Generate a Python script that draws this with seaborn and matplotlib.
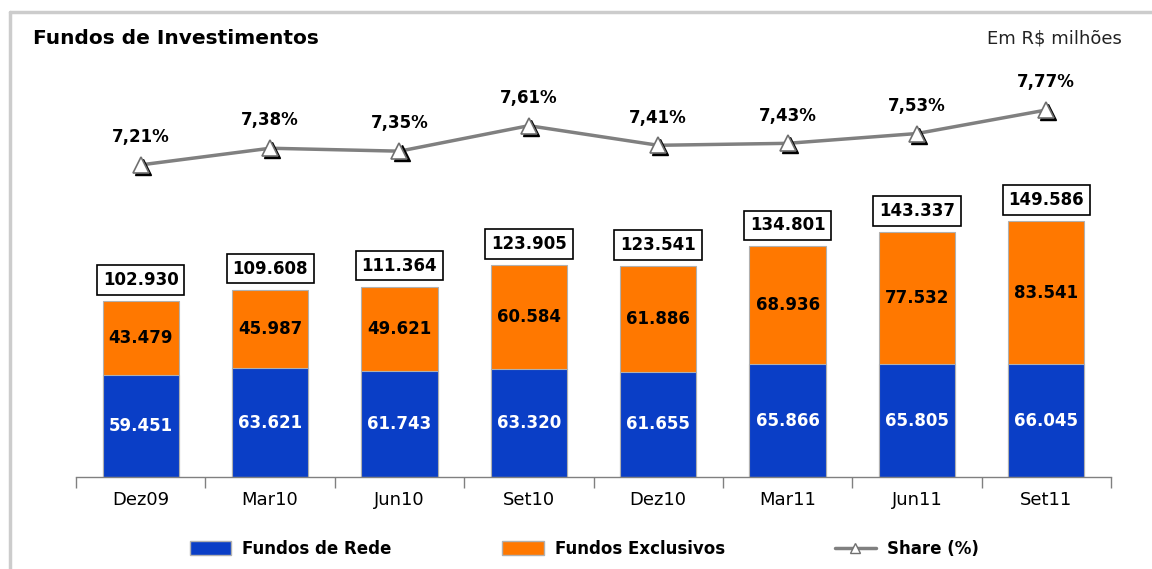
import numpy as np
import matplotlib
matplotlib.use("Agg")
import matplotlib.pyplot as plt
import matplotlib.transforms as mtransforms
from matplotlib.patches import Patch
from matplotlib.lines import Line2D
import seaborn as sns

# Data (R$ milhões)
periods = ["Dez09", "Mar10", "Jun10", "Set10", "Dez10", "Mar11", "Jun11", "Set11"]
fundos_rede = [59451, 63621, 61743, 63320, 61655, 65866, 65805, 66045]
fundos_exclusivos = [43479, 45987, 49621, 60584, 61886, 68936, 77532, 83541]
totals = [102930, 109608, 111364, 123905, 123541, 134801, 143337, 149586]
share = [7.21, 7.38, 7.35, 7.61, 7.41, 7.43, 7.53, 7.77]

BLUE = "#0a3ec6"
ORANGE = "#ff7800"
GRAY = "#808080"


def fmt_thousands(v):
    return f"{v:,}".replace(",", ".")


sns.set_theme(style="white")
plt.rcParams['font.family'] = ['DejaVu Sans']
plt.rcParams['text.color'] = 'black'

fig = plt.figure(figsize=(11.52, 5.69), dpi=100)
ax = fig.add_axes([0.066, 0.1617, 0.8984, 0.733])

# orange bars span the full stack, blue drawn over the lower part
stacked = [r + e for r, e in zip(fundos_rede, fundos_exclusivos)]
sns.barplot(x=periods, y=stacked, color=ORANGE, saturation=1, width=0.59,
            edgecolor="#b0b0b0", linewidth=0.8, ax=ax)
sns.barplot(x=periods, y=fundos_rede, color=BLUE, saturation=1, width=0.59,
            edgecolor="#b0b0b0", linewidth=0.8, ax=ax)

ax.set_xlim(-0.5, 7.5)
ax.set_ylim(0, 243874)
ax.set_yticks([])
ax.set_ylabel("")
for side in ["top", "left", "right"]:
    ax.spines[side].set_visible(False)
ax.spines["bottom"].set_color(GRAY)
ax.spines["bottom"].set_linewidth(1)
ax.set_xticks(range(len(periods)))
ax.set_xticklabels(periods, fontsize=13, color="black")
ax.set_xticks(np.arange(-0.5, len(periods), 1), minor=True)
ax.tick_params(axis="x", which="major", length=0, pad=10)
ax.tick_params(axis="x", which="minor", length=8, width=1, color=GRAY, bottom=True, direction="out")

# segment labels
for i in range(len(periods)):
    r, e = fundos_rede[i], fundos_exclusivos[i]
    ax.text(i, r / 2, fmt_thousands(r), ha="center", va="center", color="white",
            fontsize=12, fontweight="bold")
    ax.text(i, r + e / 2, fmt_thousands(e), ha="center", va="center", color="black",
            fontsize=12, fontweight="bold")
    ax.text(i, stacked[i] + 12300, fmt_thousands(totals[i]), ha="center", va="center",
            color="black", fontsize=12, fontweight="bold",
            bbox=dict(boxstyle="square,pad=0.35", facecolor="white", edgecolor="black", linewidth=1.2))

# share line on secondary axis
ax2 = ax.twinx()
xs = np.arange(len(periods))
sns.lineplot(x=xs, y=share, color=GRAY, linewidth=2.5, ax=ax2, zorder=2)
shadow = mtransforms.offset_copy(ax2.transData, fig=fig, x=1.5, y=-1.5, units="points")
ax2.plot(xs, share, linestyle="none", marker="^", markersize=11, color="black",
         transform=shadow, zorder=3)
ax2.plot(xs, share, linestyle="none", marker="^", markersize=11, markerfacecolor="white",
         markeredgecolor="#707070", markeredgewidth=1.2, zorder=4)
ax2.set_ylim(4.026, 8.281)
ax2.set_yticks([])
ax2.set_ylabel("")
for side in ["top", "left", "right", "bottom"]:
    ax2.spines[side].set_visible(False)
for i, s in enumerate(share):
    ax2.annotate(f"{s:.2f}%".replace(".", ","), (i, s), xytext=(0, 20), textcoords="offset points",
                 ha="center", va="center", fontsize=12, fontweight="bold", color="black")

# frame lines (top and left)
fig.add_artist(Line2D([10 / 1152, 1], [1 - 12 / 569, 1 - 12 / 569], color="#cccccc", linewidth=2.5,
                      transform=fig.transFigure))
fig.add_artist(Line2D([10 / 1152, 10 / 1152], [0, 1 - 12 / 569], color="#cccccc", linewidth=2.5,
                      transform=fig.transFigure))

fig.text(33 / 1152, 1 - 38 / 569, "Fundos de Investimentos", fontsize=14.5, fontweight="bold",
         ha="left", va="center", color="black")
fig.text(1122 / 1152, 1 - 38 / 569, "Em R$ milhões", fontsize=13, ha="right", va="center",
         color="#222222")

handles = [
    Patch(facecolor=BLUE, edgecolor="#b0b0b0"),
    Patch(facecolor=ORANGE, edgecolor="#b0b0b0"),
    Line2D([0], [0], color=GRAY, linewidth=2.5, marker="^", markersize=7,
           markerfacecolor="white", markeredgecolor="#707070"),
]
labels = ["Fundos de Rede", "Fundos Exclusivos", "Share (%)"]
leg = fig.legend(handles, labels, loc="center", bbox_to_anchor=(584.5 / 1152, 20 / 569), ncol=3,
                 frameon=False, prop={"weight": "bold", "size": 12}, handlelength=2.5,
                 handleheight=0.9, handletextpad=0.66, columnspacing=6.6)
for t in leg.get_texts():
    t.set_color("black")

fig.savefig("out.png", dpi=100)
